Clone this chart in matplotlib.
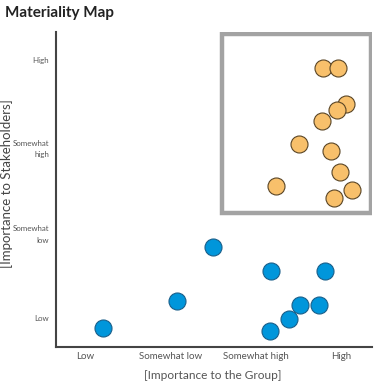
import matplotlib
matplotlib.use('Agg')
from matplotlib import pyplot as plt
from matplotlib.patches import Rectangle

levels = ['Low', 'Somewhat low', 'Somewhat high', 'High']
y_levels = ['Low', 'Somewhat\nlow', 'Somewhat\nhigh', 'High']

# low-materiality topics
blue_x = [1.21, 2.08, 2.50, 3.18, 3.81, 3.52, 3.74, 3.39, 3.17]
blue_y = [0.88, 1.20, 1.83, 1.55, 1.55, 1.15, 1.15, 0.98, 0.85]

# material topics (inside the box)
orange_x = [3.79, 3.96, 4.06, 3.95, 3.78, 3.51, 3.88, 3.99, 3.24, 4.13, 3.92]
orange_y = [3.91, 3.91, 3.49, 3.42, 3.29, 3.02, 2.94, 2.70, 2.53, 2.49, 2.40]

box_x = (2.61, 4.35)
box_y = (2.22, 4.31)

plt.rcParams['font.family'] = ['Lato', 'DejaVu Sans']

fig = plt.figure(figsize=(3.8, 3.82), dpi=100)
ax = fig.add_axes([0.147, 0.092, 0.832, 0.824])

ax.scatter(blue_x, blue_y, s=150, color='#0096DB', edgecolors='#1a5f8a', linewidths=0.8, zorder=3)
ax.scatter(orange_x, orange_y, s=150, color='#F8C06B', edgecolors='#5a4525', linewidths=0.8, zorder=3)

ax.add_patch(Rectangle((box_x[0], box_y[0]), box_x[1] - box_x[0], box_y[1] - box_y[0],
                       fill=False, edgecolor='#a3a3a3', linewidth=3.2, zorder=2))

ax.set_xlim(0.66, 4.36)
ax.set_ylim(0.66, 4.33)
ax.set_xticks([1, 2, 3, 4])
ax.set_xticklabels(levels, fontsize=7, color='#555555')
ax.set_yticks([1, 2, 3, 4])
ax.set_yticklabels(y_levels, fontsize=5.7, color='#555555', ha='right', linespacing=1.8)
ax.tick_params(axis='y', length=0, pad=5)
ax.tick_params(axis='x', length=0, pad=4)

ax.set_xlabel('[Importance to the Group]', fontsize=8.6, color='#555555')
ax.set_ylabel('[Importance to Stakeholders]', fontsize=9.5, color='#444444')
ax.xaxis.set_label_coords(0.497, -0.074)
ax.yaxis.set_label_coords(-0.135, 0.52)

for side in ['top', 'right']:
    ax.spines[side].set_visible(False)
for side in ['left', 'bottom']:
    ax.spines[side].set_linewidth(1.5)
    ax.spines[side].set_color('#444444')

fig.text(0.013, 0.985, 'Materiality Map', fontsize=11, fontweight='bold', color='#222222',
         ha='left', va='top')

fig.savefig('out.png', dpi=100)
